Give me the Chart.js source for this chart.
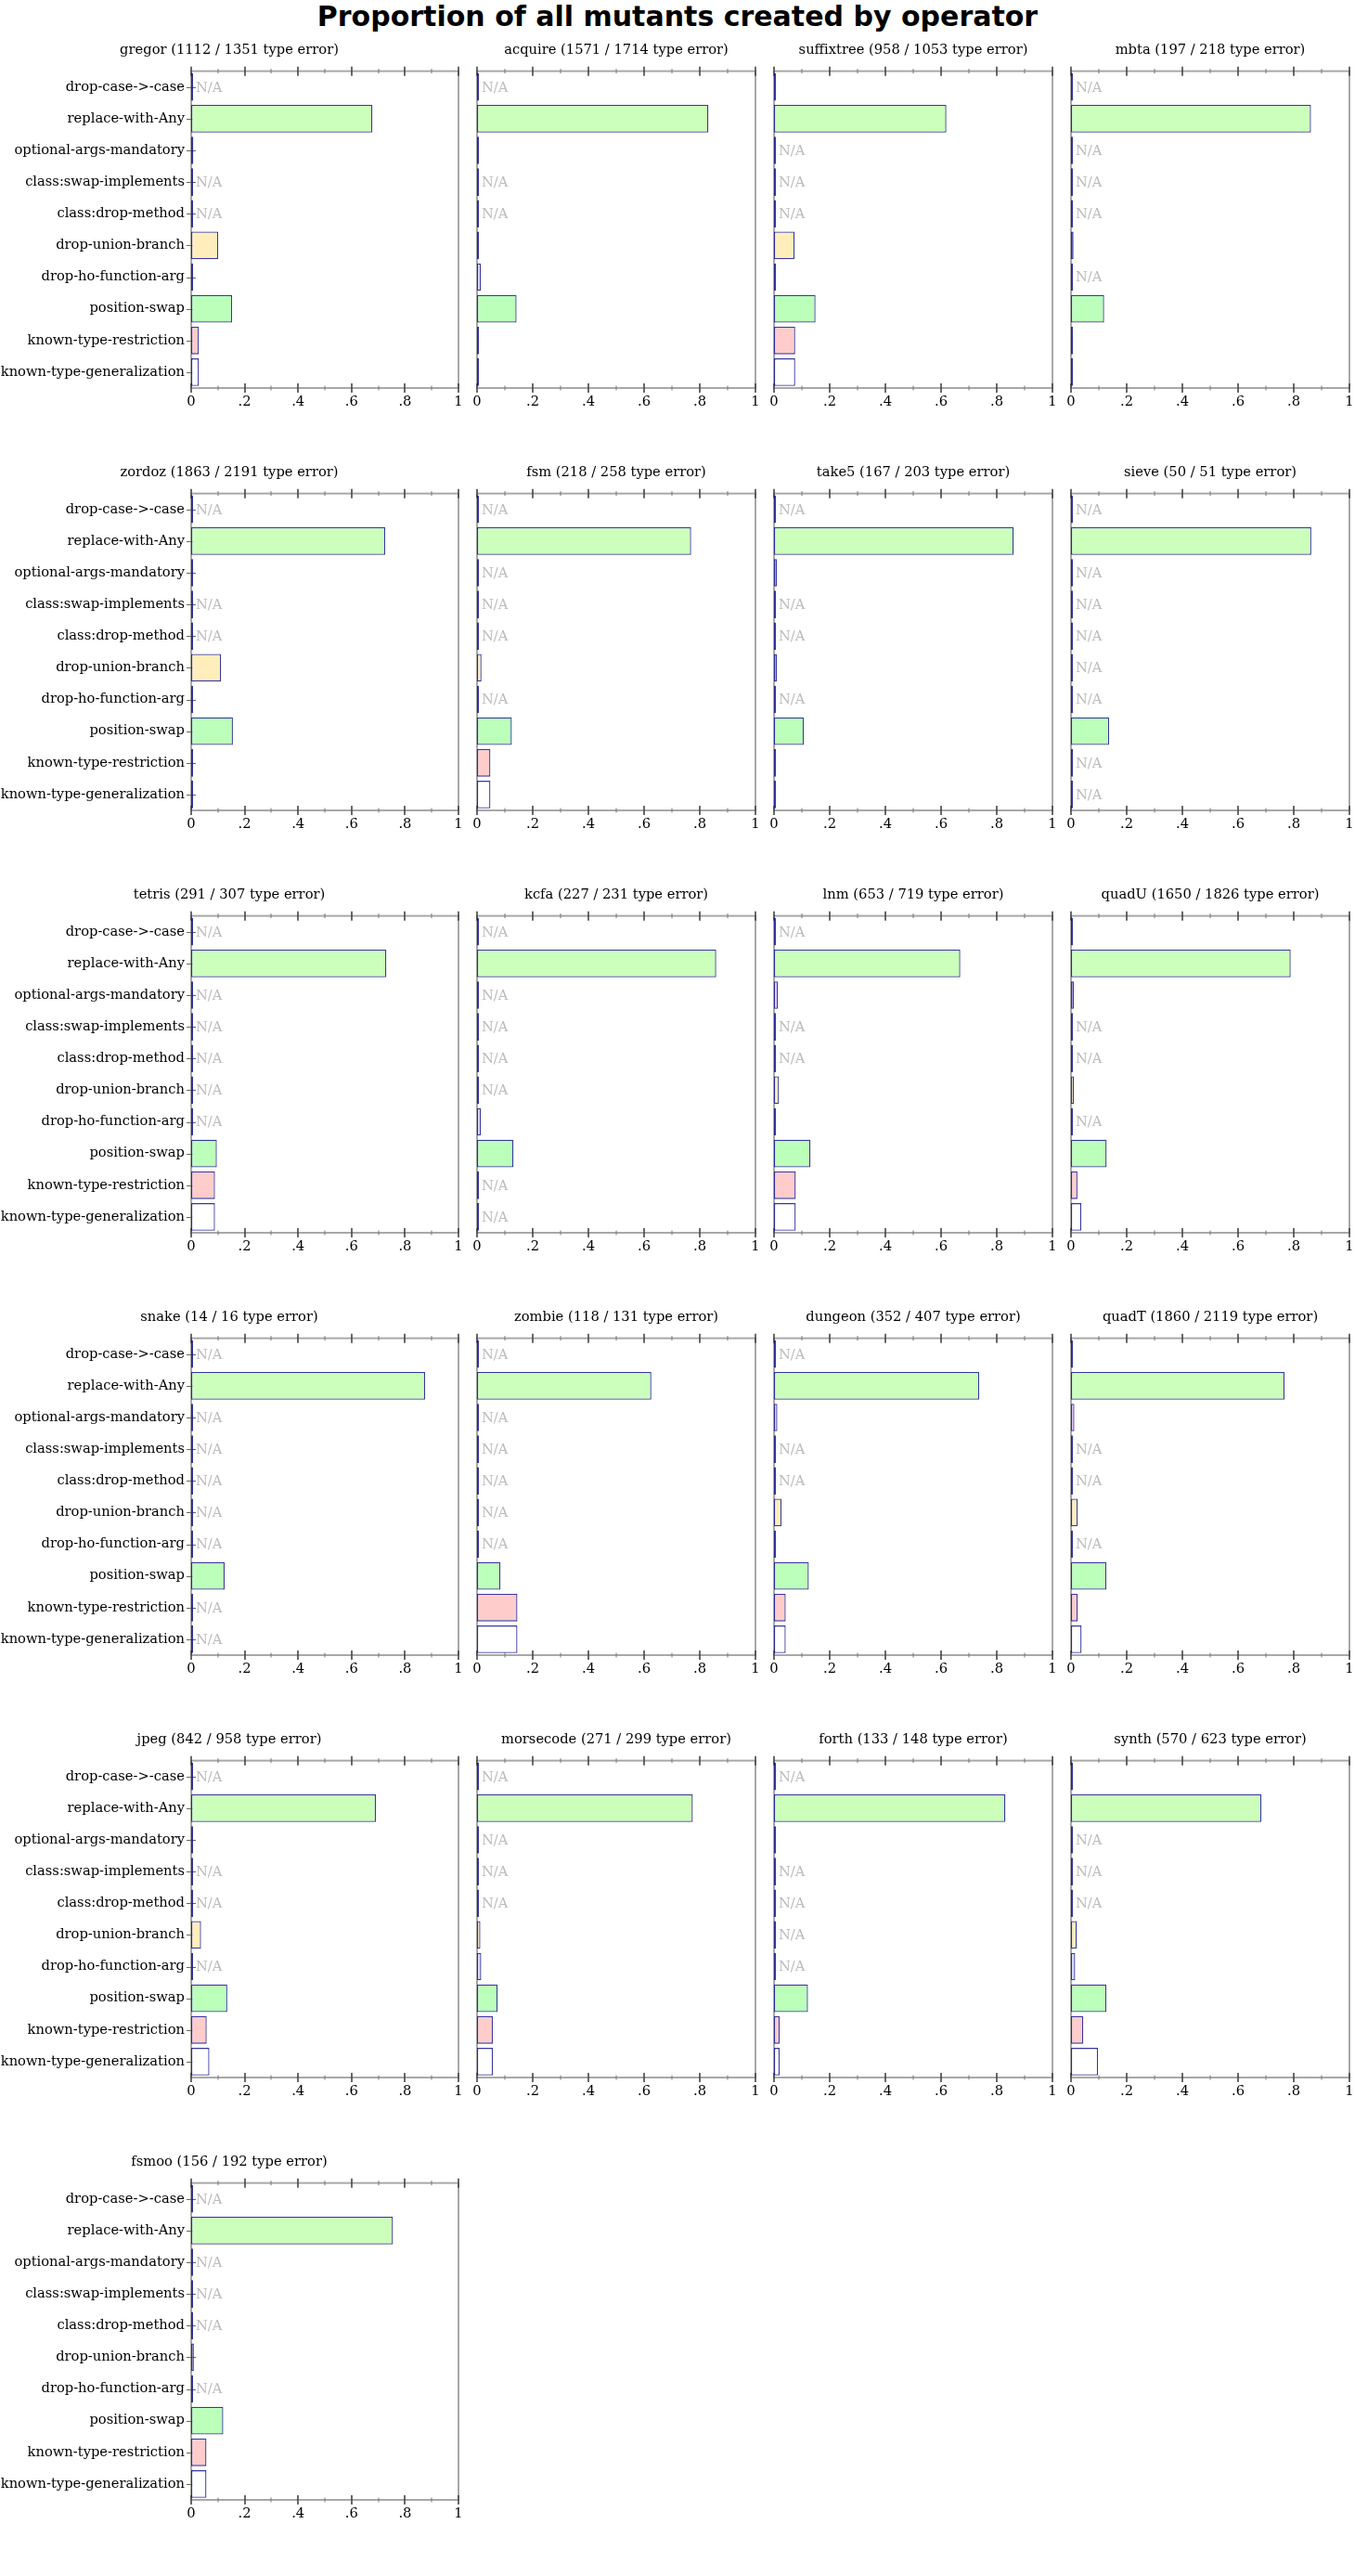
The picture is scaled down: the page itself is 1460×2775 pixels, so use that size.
<!DOCTYPE html>
<html>
<head>
<meta charset="utf-8">
<script src="https://cdn.jsdelivr.net/npm/chart.js@4.4.1/dist/chart.umd.min.js"></script>
<style>
  html, body { margin: 0; padding: 0; background: #ffffff; }
  body { position: relative; width: 1460px; height: 2775px; overflow: hidden; }
  #mainTitle { position: absolute; left: 0; top: 0; width: 1460px; text-align: center;
    font: bold 30px "DejaVu Sans", sans-serif; line-height: 36px; color: #000; }
  canvas { position: absolute; }
</style>
</head>
<body>
<div id="mainTitle">Proportion of all mutants created by operator</div>
<script>
// ---- categories ----
const operators = [
  'drop-case->-case', 'replace-with-Any', 'optional-args-mandatory',
  'class:swap-implements', 'class:drop-method', 'drop-union-branch',
  'drop-ho-function-arg', 'position-swap', 'known-type-restriction',
  'known-type-generalization'
];
const xTickLabels = ['0', '.2', '.4', '.6', '.8', '1'];

// ---- benchmarks (title info) ----
const benchmarks   = ['gregor','acquire','suffixtree','mbta','zordoz','fsm','take5','sieve','tetris','kcfa','lnm','quadU','snake','zombie','dungeon','quadT','jpeg','morsecode','forth','synth','fsmoo'];
const typeErrors   = [1112, 1571, 958, 197, 1863, 218, 167, 50, 291, 227, 653, 1650, 14, 118, 352, 1860, 842, 271, 133, 570, 156];
const mutantTotals = [1351, 1714, 1053, 218, 2191, 258, 203, 51, 307, 231, 719, 1826, 16, 131, 407, 2119, 958, 299, 148, 623, 192];

// ---- proportions per operator (null = N/A) ----
const gregor     = [null, 0.678, 0.008, null, null, 0.101, 0.004, 0.153, 0.029, 0.029];
const acquire    = [null, 0.831, 0.003, null, null, 0.002, 0.014, 0.142, 0.001, 0.001];
const suffixtree = [0.002, 0.619, null, null, null, 0.074, 0.002, 0.149, 0.076, 0.076];
const mbta       = [null, 0.862, null, null, null, 0.009, null, 0.119, 0.005, 0.005];
const zordoz     = [null, 0.726, 0.003, null, null, 0.112, 0.003, 0.156, 0.005, 0.005];
const fsm        = [null, 0.769, null, null, null, 0.016, null, 0.125, 0.048, 0.048];
const take5      = [null, 0.861, 0.010, null, null, 0.010, null, 0.107, 0.005, 0.005];
const sieve      = [null, 0.863, null, null, null, null, null, 0.137, null, null];
const tetris     = [null, 0.730, null, null, null, null, null, 0.096, 0.089, 0.089];
const kcfa       = [null, 0.859, null, null, null, null, 0.014, 0.131, null, null];
const lnm        = [null, 0.669, 0.014, null, null, 0.018, 0.007, 0.131, 0.078, 0.078];
const quadU      = [0.003, 0.789, 0.010, null, null, 0.011, null, 0.128, 0.023, 0.037];
const snake      = [null, 0.875, null, null, null, null, null, 0.125, null, null];
const zombie     = [null, 0.626, null, null, null, null, null, 0.084, 0.145, 0.145];
const dungeon    = [null, 0.737, 0.012, null, null, 0.027, 0.002, 0.125, 0.042, 0.042];
const quadT      = [0.002, 0.767, 0.012, null, null, 0.024, null, 0.127, 0.024, 0.038];
const jpeg       = [null, 0.691, 0.003, null, null, 0.037, null, 0.135, 0.058, 0.068];
const morsecode  = [null, 0.775, null, null, null, 0.012, 0.015, 0.074, 0.057, 0.057];
const forth      = [null, 0.831, 0.007, null, null, null, null, 0.122, 0.020, 0.020];
const synth      = [0.002, 0.684, null, null, null, 0.021, 0.015, 0.127, 0.044, 0.097];
const fsmoo      = [null, 0.755, null, null, null, 0.010, null, 0.120, 0.057, 0.057];

const seriesValues = [gregor, acquire, suffixtree, mbta, zordoz, fsm, take5, sieve, tetris, kcfa, lnm, quadU,
                      snake, zombie, dungeon, quadT, jpeg, morsecode, forth, synth, fsmoo];

// ---- styling ----
const operatorColors = ['#ccccff', '#ccffbb', '#eeccff', '#ccccff', '#ccccff', '#ffeebb', '#dde0ff', '#bbffbb', '#ffcccc', '#ffffff'];
const SERIF = '"DejaVu Serif", serif';
const FONT_SIZE = 14.7;

const framePlugin = {
  id: 'frame',
  beforeDatasetsDraw(chart, args, opts) {
    const { ctx, chartArea: a, scales: { x, y } } = chart;
    ctx.save();
    ctx.strokeStyle = '#a8a8a8';
    ctx.lineWidth = 2;
    ctx.strokeRect(a.left, a.top, a.right - a.left, a.bottom - a.top);
    x.ticks.forEach(t => {
      const px = Math.round(x.getPixelForValue(t.value));
      const major = Math.round(t.value * 10) % 2 === 0;
      const len = major ? 5 : 2.5;
      ctx.strokeStyle = major ? '#444444' : '#777777';
      ctx.lineWidth = major ? 1.6 : 1;
      [a.top, a.bottom].forEach(py => {
        ctx.beginPath();
        ctx.moveTo(px, py - len);
        ctx.lineTo(px, py + len);
        ctx.stroke();
      });
    });
    if (opts.categoryTicks) {
      ctx.strokeStyle = '#666666';
      ctx.lineWidth = 1;
      operators.forEach((op, i) => {
        const py = Math.round(y.getPixelForValue(i)) + 0.5;
        ctx.beginPath();
        ctx.moveTo(a.left - 5, py);
        ctx.lineTo(a.left + 5, py);
        ctx.stroke();
      });
    }
    ctx.restore();
  },
  afterDatasetsDraw(chart, args, opts) {
    const { ctx, chartArea: a, scales: { y } } = chart;
    const vals = seriesValues[opts.panel];
    ctx.save();
    ctx.font = FONT_SIZE + 'px ' + SERIF;
    ctx.fillStyle = '#bbbbbb';
    ctx.textAlign = 'left';
    ctx.textBaseline = 'middle';
    vals.forEach((v, i) => {
      if (v === null) ctx.fillText('N/A', a.left + 5, y.getPixelForValue(i) + 1);
    });
    ctx.restore();
  }
};

const ROW_STEP = 455;
benchmarks.forEach((name, p) => {
  const row = Math.floor(p / 4), col = p % 4;
  const first = col === 0;
  const cv = document.createElement('canvas');
  const w = first ? 500 : 320;
  const h = 420;
  cv.width = w; cv.height = h;
  cv.style.left = (first ? 0 : 504 + 320 * (col - 1)) + 'px';
  cv.style.top = (36 + ROW_STEP * row) + 'px';
  cv.style.width = w + 'px'; cv.style.height = h + 'px';
  document.body.appendChild(cv);

  new Chart(cv.getContext('2d'), {
    type: 'bar',
    data: {
      labels: operators,
      datasets: [{
        data: seriesValues[p].map(v => v === null ? 0 : v),
        backgroundColor: operatorColors,
        borderColor: 'rgba(20,20,140,0.85)',
        borderWidth: 1.3,
        borderSkipped: false,
        minBarLength: 2,
        barPercentage: 0.87,
        categoryPercentage: 1.0
      }]
    },
    options: {
      indexAxis: 'y',
      responsive: false,
      devicePixelRatio: 1,
      animation: false,
      events: [],
      layout: { padding: { left: first ? 0 : 10, right: first ? 6 : 10, top: 0, bottom: 0 } },
      plugins: {
        legend: { display: false },
        tooltip: { enabled: false },
        title: {
          display: true,
          text: `${name} (${typeErrors[p]} / ${mutantTotals[p]} type error)`,
          color: '#000',
          font: { family: SERIF, size: FONT_SIZE, weight: 'normal' },
          padding: { top: 9, bottom: 14 }
        },
        frame: { panel: p, categoryTicks: first }
      },
      scales: {
        x: {
          type: 'linear', position: 'bottom', min: 0, max: 1,
          grid: { display: false, drawTicks: true, tickLength: 6 },
          border: { display: false },
          ticks: {
            stepSize: 0.1, autoSkip: false, maxRotation: 0, padding: 0,
            color: '#000', font: { family: SERIF, size: FONT_SIZE },
            callback: (v) => { const k = Math.round(v * 10); return k % 2 === 0 ? xTickLabels[k / 2] : ''; }
          },
          afterFit: (s) => { s.height = 38; }
        },
        y: {
          type: 'category', display: first,
          grid: { display: false, drawTicks: false },
          border: { display: false },
          ticks: { padding: 7, color: '#000', font: { family: SERIF, size: FONT_SIZE }, autoSkip: false },
          afterFit: (s) => { if (first) s.width = 206; }
        }
      }
    },
    plugins: [framePlugin]
  });
});
</script>
</body>
</html>
